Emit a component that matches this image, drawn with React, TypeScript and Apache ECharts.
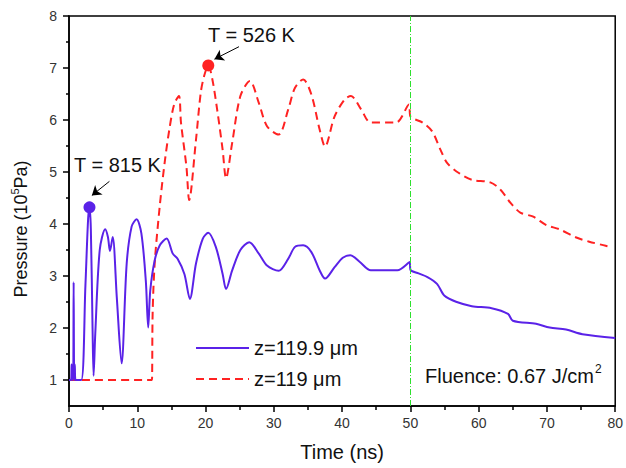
import React, { useEffect, useRef } from "react";
import * as echarts from "echarts";

const blueTime = [0, 0.3, 0.38, 0.45, 0.6, 0.68, 0.76, 0.85, 0.95, 1.8, 2.4, 2.8, 3.0, 3.2, 3.45, 3.6, 3.85, 4.5, 5.3, 5.7, 6.0, 6.4, 7.0, 7.7, 8.45, 9.17, 9.9, 10.6, 11.25, 11.6, 11.9, 12.55, 13.3, 14.3, 15.2, 15.9, 16.9, 17.7, 18.6, 19.6, 20.4, 21.5, 22.5, 23.0, 23.9, 25.1, 26.4, 27.8, 29.0, 30.7, 32.1, 33.1, 34.3, 35.5, 36.7, 37.5, 38.9, 40.1, 41.2, 42.6, 44.2, 48.1, 49.9, 50.0, 51.2, 52.5, 53.9, 55.0, 56.8, 59.0, 61.9, 64.3, 65.0, 68.4, 70.4, 72.8, 75.2, 80];
const bluePressure = [1, 1.0, 1.3, 1.02, 1.0, 2.88, 1.0, 1.3, 1.0, 1.0, 2.8, 4.1, 4.32, 3.9, 2.0, 1.08, 1.9, 3.5, 3.9, 3.75, 3.48, 3.75, 2.59, 1.32, 3.24, 3.95, 4.09, 3.82, 2.91, 2.01, 2.72, 3.3, 3.59, 3.72, 3.43, 3.33, 3.04, 2.56, 3.24, 3.72, 3.83, 3.56, 3.04, 2.75, 3.11, 3.5, 3.65, 3.43, 3.2, 3.1, 3.33, 3.56, 3.59, 3.46, 3.11, 2.95, 3.17, 3.35, 3.4, 3.27, 3.11, 3.11, 3.27, 3.12, 3.05, 2.98, 2.85, 2.62, 2.5, 2.42, 2.38, 2.27, 2.14, 2.08, 2.01, 1.97, 1.88, 1.81];

const redTime = [0, 12.1, 12.17, 12.25, 12.55, 13.28, 14.0, 14.7, 15.4, 16.1, 16.4, 17.2, 17.6, 18.6, 19.3, 19.8, 20.4, 21.0, 21.7, 22.5, 23.0, 23.9, 25.1, 26.5, 27.8, 29.0, 30.7, 32.1, 33.1, 34.3, 35.5, 36.7, 37.5, 38.9, 40.4, 41.3, 42.8, 44.2, 47.9, 49.8, 50.0, 51.8, 53.2, 54.4, 55.4, 57.1, 59.0, 61.7, 63.2, 64.7, 66.1, 68.0, 69.9, 71.8, 74.3, 76.2, 78.6, 79.3];
const redPressure = [1, 1, 1.05, 2.28, 3.24, 4.33, 5.17, 5.82, 6.3, 6.46, 5.95, 5.1, 4.46, 5.62, 6.53, 6.85, 7.05, 6.78, 6.2, 5.43, 4.88, 5.56, 6.46, 6.75, 6.33, 5.88, 5.72, 6.2, 6.62, 6.78, 6.49, 5.82, 5.49, 6.07, 6.4, 6.46, 6.2, 5.95, 5.95, 6.3, 6.07, 5.95, 5.78, 5.43, 5.17, 4.98, 4.85, 4.8, 4.66, 4.4, 4.22, 4.14, 3.98, 3.9, 3.74, 3.66, 3.58, 3.55];

const seriesNames = ["z=119.9 μm", "z=119 μm"];
const yMajorTicks = [1, 2, 3, 4, 5, 6, 7, 8];
const yMinorTicks = [1.5, 2.5, 3.5, 4.5, 5.5, 6.5, 7.5];
const bluePeak = [3.0, 4.32];
const redPeak = [20.4, 7.05];
const fluenceLine = 50;

const FONT = "'Liberation Sans', Arial, sans-serif";
const BLUE = "#5a22e8";
const RED = "#ff2222";

export default function App() {
  const ref = useRef<HTMLDivElement>(null);
  useEffect(() => {
    document.body.style.margin = "0";
    const chart = echarts.init(ref.current!, null, { renderer: "svg" });
    const blueData = blueTime.map((t, i) => [t, bluePressure[i]]);
    const redData = redTime.map((t, i) => [t, redPressure[i]]);
    chart.setOption({
      animation: false,
      grid: { left: 69, right: 7, top: 16, bottom: 62, show: true, borderColor: "#000", borderWidth: 1.5, backgroundColor: "transparent" },
      legend: {
        data: seriesNames,
        orient: "vertical",
        left: 195,
        top: 338,
        padding: 0,
        itemGap: 11,
        itemWidth: 53,
        itemHeight: 14,
        itemStyle: { opacity: 0 },
        textStyle: { fontFamily: FONT, fontSize: 20, color: "#111" },
      },
      xAxis: {
        type: "value",
        min: 0,
        max: 80,
        interval: 10,
        name: "Time (ns)",
        nameLocation: "middle",
        nameGap: 36,
        nameTextStyle: { fontFamily: FONT, fontSize: 20, color: "#111" },
        axisLine: { lineStyle: { color: "#000", width: 1.5 } },
        axisTick: { length: 6, lineStyle: { color: "#000", width: 1.5 } },
        minorTick: { show: true, splitNumber: 2, length: 4, lineStyle: { color: "#000", width: 1.5 } },
        splitLine: { show: false },
        axisLabel: { fontFamily: FONT, fontSize: 14, color: "#333", margin: 10 },
      },
      yAxis: [
        {
          type: "value",
          min: 0.5,
          max: 8,
          position: "left",
          axisLine: { show: true, lineStyle: { color: "#000", width: 1.5 } },
          axisTick: { show: true, length: 6, customValues: yMajorTicks, lineStyle: { color: "#000", width: 1.5 } },
          axisLabel: { customValues: yMajorTicks, fontFamily: FONT, fontSize: 14, color: "#333", margin: 12 },
          splitLine: { show: false },
        },
        {
          type: "value",
          min: 0.5,
          max: 8,
          position: "left",
          axisLine: { show: false },
          axisTick: { show: true, length: 3, customValues: yMinorTicks, lineStyle: { color: "#000", width: 1.5 } },
          axisLabel: { show: false },
          splitLine: { show: false },
        },
      ],
      series: [
        {
          name: seriesNames[0],
          type: "line",
          data: blueData,
          symbol: "none",
          smooth: 0.3,
          lineStyle: { color: BLUE, width: 2 },
          itemStyle: { color: BLUE },
          emphasis: { disabled: true },
          z: 3,
          markPoint: {
            symbol: "circle",
            symbolSize: 12,
            itemStyle: { color: BLUE },
            label: { show: false },
            data: [{ coord: bluePeak }],
          },
          markLine: {
            silent: true,
            symbol: ["none", "none"],
            label: { show: false },
            lineStyle: { color: "#2ee02e", width: 1, type: [6, 2, 1, 2] },
            data: [{ xAxis: fluenceLine }],
          },
        },
        {
          name: seriesNames[1],
          type: "line",
          data: redData,
          symbol: "none",
          smooth: 0.3,
          lineStyle: { color: RED, width: 2, type: [8, 5] },
          itemStyle: { color: RED },
          emphasis: { disabled: true },
          z: 2,
          markPoint: {
            symbol: "circle",
            symbolSize: 12,
            itemStyle: { color: RED },
            label: { show: false },
            data: [{ coord: redPeak }],
          },
          markLine: {
            silent: true,
            symbol: ["none", "arrow"],
            symbolSize: 9,
            label: { show: false },
            lineStyle: { color: "#000", width: 1, type: "solid" },
            data: [
              [{ coord: [24.9, 7.41] }, { coord: [21.3, 7.17] }],
              [{ coord: [5.92, 4.82] }, { coord: [3.35, 4.55] }],
            ],
          },
        },
      ],
      graphic: [
        {
          type: "text",
          x: 208,
          y: 35,
          style: { text: "T = 526 K", fontFamily: FONT, fontSize: 20, fill: "#111", verticalAlign: "middle" },
        },
        {
          type: "text",
          x: 74,
          y: 165,
          style: { text: "T = 815 K", fontFamily: FONT, fontSize: 20, fill: "#111", verticalAlign: "middle" },
        },
        {
          type: "text",
          x: 425,
          y: 376,
          style: {
            text: "{a|Fluence: 0.67 J/cm}{s|2}",
            verticalAlign: "middle",
            rich: {
              a: { fontFamily: FONT, fontSize: 20, fill: "#111", color: "#111" },
              s: { fontFamily: FONT, fontSize: 12, fill: "#111", color: "#111", padding: [0, 0, 14, 1] },
            },
          },
        },
        {
          type: "text",
          x: 21,
          y: 229,
          rotation: Math.PI / 2,
          style: {
            text: "{a|Pressure (10}{s|5}{a|Pa)}",
            align: "center",
            verticalAlign: "middle",
            rich: {
              a: { fontFamily: FONT, fontSize: 18, fill: "#111", color: "#111" },
              s: { fontFamily: FONT, fontSize: 11, fill: "#111", color: "#111", padding: [0, 0, 12, 0] },
            },
          },
        },
      ],
    });
    return () => chart.dispose();
  }, []);
  return <div ref={ref} style={{ width: 626, height: 468 }} />;
}
